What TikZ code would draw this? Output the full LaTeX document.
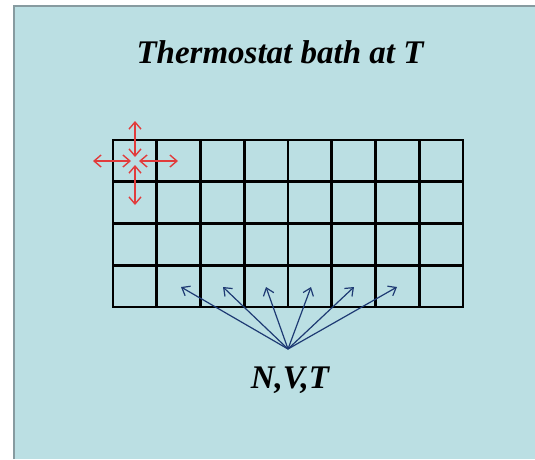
\documentclass[tikz,border=0pt]{standalone}
\usepackage{fontspec}
\setmainfont{Liberation Serif}
\usetikzlibrary{arrows.meta}
\definecolor{bathblue}{RGB}{187,223,227}
\definecolor{bathedge}{RGB}{135,155,160}
\definecolor{probered}{RGB}{225,60,60}
\definecolor{linkblue}{RGB}{30,58,115}

\begin{document}
\begin{tikzpicture}[x=1pt, y=-1pt,
    bath/.style={fill=bathblue, draw=none},
    edge/.style={draw=bathedge, line width=2pt},
    cellgrid/.style={draw=black, line width=2.6pt},
    probe/.style={{Straight Barb[length=7pt,width=12pt]}-{Straight Barb[length=7pt,width=12pt]}, draw=probered, line width=1.4pt},
    link/.style={-{Straight Barb[length=7pt,width=11pt]}, draw=linkblue, line width=1.2pt},
    label/.style={font=\fontsize{33}{40}\selectfont\bfseries\itshape, anchor=base}
]
    \useasboundingbox (0,0) rectangle (535,459);

    % Bath
    \fill[bath] (14,6) rectangle (535,459);
    \draw[edge] (14,459) -- (14,6) -- (535,6);
    \node[label] (title) at (280,63) {Thermostat bath at T};

    % Cells
    \foreach \i in {0,...,8}
        \draw[cellgrid] (113+\i*43.75,140) -- (113+\i*43.75,307);
    \foreach \j in {0,...,4}
        \draw[cellgrid] (112,140+\j*41.75) -- (464,140+\j*41.75);

    % Exchange with the bath
    \coordinate (west) at (93,161);
    \coordinate (westin) at (131,161);
    \coordinate (east) at (178,161);
    \coordinate (eastin) at (139,161);
    \coordinate (north) at (135,121);
    \coordinate (northin) at (135,157);
    \coordinate (south) at (135,205);
    \coordinate (southin) at (135,165);
    \draw[probe] (west) -- (westin);
    \draw[probe] (eastin) -- (east);
    \draw[probe] (north) -- (northin);
    \draw[probe] (southin) -- (south);

    % Fixed variables
    \node[label] (nvt) at (290,388) {N,V,T};
    \coordinate (hub) at (288,349);
    \coordinate (c1) at (181,287);
    \coordinate (c2) at (223,287);
    \coordinate (c3) at (266,287);
    \coordinate (c4) at (311,287);
    \coordinate (c5) at (354,287);
    \coordinate (c6) at (397,287);
    \draw[link] (hub) -- (c1);
    \draw[link] (hub) -- (c2);
    \draw[link] (hub) -- (c3);
    \draw[link] (hub) -- (c4);
    \draw[link] (hub) -- (c5);
    \draw[link] (hub) -- (c6);
\end{tikzpicture}
\end{document}
